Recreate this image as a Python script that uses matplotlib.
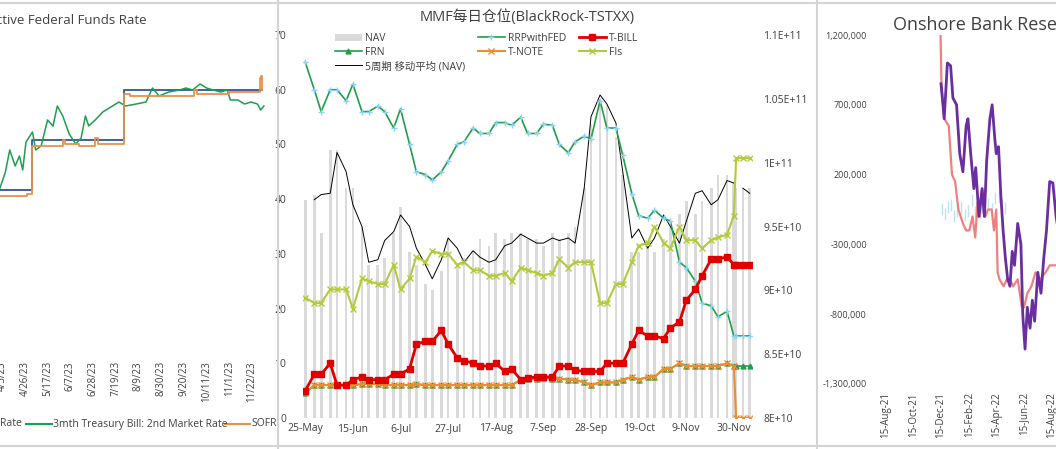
import matplotlib
matplotlib.use("Agg")
import matplotlib.pyplot as plt
import matplotlib.dates as mdates
from matplotlib.lines import Line2D
import pandas as pd

plt.rcParams['font.family'] = ['Open Sans', 'Noto Sans CJK SC', 'DejaVu Sans']

W, H = 1056, 449

# ---------------- panel 1 data: rates ----------------
effr_dates = ["2023-04-03", "2023-05-03", "2023-07-27", "2023-12-01"]
effr_vals = [4.83, 5.08, 5.33, 5.33]

sofr_dates = ["2023-04-03", "2023-04-28", "2023-05-03", "2023-05-31", "2023-06-02", "2023-06-15",
              "2023-06-30", "2023-07-03", "2023-07-27", "2023-08-01", "2023-09-29", "2023-10-02",
              "2023-11-01", "2023-11-28", "2023-11-29", "2023-11-30", "2023-12-01"]
sofr_vals = [4.80, 4.81, 5.05, 5.08, 5.06, 5.05, 5.09, 5.06, 5.31, 5.30, 5.33, 5.31,
             5.32, 5.32, 5.39, 5.40, 5.33]

tbill3m_dates = ["2023-04-03", "2023-04-08", "2023-04-12", "2023-04-17", "2023-04-21", "2023-04-24",
                 "2023-04-27", "2023-05-03", "2023-05-06", "2023-05-11", "2023-05-17", "2023-05-22",
                 "2023-05-26", "2023-05-31", "2023-06-06", "2023-06-12", "2023-06-17", "2023-06-21",
                 "2023-06-24", "2023-06-30", "2023-07-07", "2023-07-13", "2023-07-22", "2023-07-28",
                 "2023-08-07", "2023-08-16", "2023-08-22", "2023-08-28", "2023-09-06", "2023-09-16",
                 "2023-09-22", "2023-09-28", "2023-10-05", "2023-10-11", "2023-10-17", "2023-10-24",
                 "2023-10-30", "2023-11-02", "2023-11-09", "2023-11-15", "2023-11-21", "2023-11-27",
                 "2023-11-30", "2023-12-03"]
tbill3m_vals = [4.84, 4.92, 5.03, 4.95, 5.00, 4.93, 5.07, 5.12, 5.03, 5.05, 5.18, 5.15,
                5.25, 5.20, 5.11, 5.06, 5.09, 5.20, 5.15, 5.18, 5.22, 5.24, 5.27, 5.25,
                5.26, 5.27, 5.34, 5.30, 5.32, 5.33, 5.34, 5.33, 5.36, 5.34, 5.33, 5.32,
                5.33, 5.28, 5.28, 5.26, 5.27, 5.26, 5.23, 5.25]

# ---------------- panel 2 data: MMF positions ----------------
mmf_dates = ["2023-05-25", "2023-05-29", "2023-06-01", "2023-06-05", "2023-06-08", "2023-06-12",
             "2023-06-15", "2023-06-19", "2023-06-22", "2023-06-26", "2023-06-29", "2023-07-03",
             "2023-07-06", "2023-07-10", "2023-07-13", "2023-07-17", "2023-07-20", "2023-07-24",
             "2023-07-27", "2023-07-31", "2023-08-03", "2023-08-07", "2023-08-10", "2023-08-14",
             "2023-08-17", "2023-08-21", "2023-08-24", "2023-08-28", "2023-08-31", "2023-09-04",
             "2023-09-07", "2023-09-11", "2023-09-14", "2023-09-18", "2023-09-21", "2023-09-25",
             "2023-09-28", "2023-10-02", "2023-10-05", "2023-10-09", "2023-10-12", "2023-10-16",
             "2023-10-19", "2023-10-23", "2023-10-26", "2023-10-30", "2023-11-02", "2023-11-06",
             "2023-11-09", "2023-11-13", "2023-11-16", "2023-11-20", "2023-11-23", "2023-11-27",
             "2023-11-30", "2023-12-01", "2023-12-04", "2023-12-07"]
rrp = [65, 60, 56, 60, 60, 58, 61, 56, 56, 57, 56, 53,
       56.5, 50, 45, 44.5, 43.5, 45, 47, 50, 50.5, 53, 52, 52,
       54, 54, 53.5, 55, 52, 52, 53.7, 53.5, 50, 48.5, 50.5, 51.5,
       51, 58, 53, 53, 48, 41, 37, 36.5, 38, 36.5, 36, 28.5,
       27.5, 25, 21, 20.5, 18.5, 19.5, 15, 15, 15, 15]
tbill = [5, 8, 8, 10, 6, 6, 7, 7.5, 7, 7, 7, 8,
         8, 9, 13.5, 14, 14, 16, 13.5, 11, 10.5, 10, 9.5, 9.5,
         10, 8.5, 9, 7, 7.3, 7.5, 7.5, 7.5, 9.5, 9.5, 8.7, 8.5,
         8.5, 8.5, 10, 10, 10, 13.5, 16, 15, 15, 14.5, 16.5, 17.5,
         21.5, 23.5, 26, 29, 29, 29.5, 28, 28, 28, 28]
tnote = [4.5, 6, 6, 6, 6, 6, 6, 6.2, 6.3, 6.2, 6, 6,
         6, 6, 6.2, 6, 6, 6, 6, 6, 6, 6, 6, 6,
         6, 6, 6, 7, 7.2, 7.2, 7.3, 7.2, 7.2, 7, 7, 6.5,
         6, 6.5, 6.5, 6.5, 7, 7.5, 7, 7.5, 7.5, 9, 9, 10,
         9.5, 9.5, 9.5, 9.5, 9.5, 10, 9.5, 0, 0, 0]
frn = tnote[:55] + [9.5, 9.5, 9.5]
fis = [22, 21, 21, 23.5, 23.5, 23.5, 20, 25.5, 25, 24.5, 24.5, 28,
       23.5, 25.5, 29.5, 28.5, 30.5, 30, 30, 28, 28.5, 27, 27, 26,
       26, 26.5, 25, 27.5, 27, 26.5, 26, 26.5, 29, 27.5, 28.5, 28.5,
       28.5, 21, 21, 24.5, 24.5, 28.5, 31.5, 32, 35, 32, 31, 35,
       32.5, 32.5, 31, 32.5, 33, 33.5, 37, 47.5, 47.5, 47.5]
# NAV in units of 1E10 (right axis)
nav = [9.71, 9.75, 9.45, 10.1, 10.1, 9.8, 9.8, 9.5, 9.2, 9.2, 9.25, 9.45,
       9.65, 9.3, 9.2, 9.05, 9.0, 9.15, 9.4, 9.2, 9.25, 9.3, 9.4, 9.35,
       9.45, 9.4, 9.45, 9.45, 9.4, 9.4, 9.35, 9.45, 9.4, 9.45, 9.5, 9.8,
       10.3, 10.5, 10.45, 10.2, 9.9, 9.3, 9.3, 9.35, 9.3, 9.4, 9.5, 9.6,
       9.7, 9.6, 9.7, 9.8, 9.9, 9.9, 9.85, 9.8, 9.8, 9.8]
nav_ma = [None, 9.71, 9.75, 9.76, 10.08, 9.93, 9.67, 9.5, 9.22, 9.24, 9.39, 9.46,
          9.59, 9.5, 9.33, 9.2, 9.09, 9.24, 9.41, 9.33, 9.22, 9.31, 9.26, 9.22,
          9.24, 9.35, 9.37, 9.44, 9.41, 9.37, 9.37, 9.41, 9.39, 9.41, 9.37, 9.8,
          10.36, 10.53, 10.46, 10.31, 9.93, 9.41, 9.48, 9.33, 9.41, 9.59, 9.5, 9.37,
          9.54, 9.76, 9.78, 9.67, 9.71, 9.86, 9.84, None, 9.8, 9.76]

# ---------------- panel 3 data: bank reserves ----------------
purple_dates = ["2021-12-15", "2021-12-22", "2021-12-29", "2022-01-05", "2022-01-10", "2022-01-18",
                "2022-01-25", "2022-02-01", "2022-02-08", "2022-02-12", "2022-02-18", "2022-02-25",
                "2022-03-01", "2022-03-08", "2022-03-15", "2022-03-20", "2022-03-25", "2022-04-01",
                "2022-04-06", "2022-04-12", "2022-04-15", "2022-04-20", "2022-04-25", "2022-04-30",
                "2022-05-05", "2022-05-10", "2022-05-15", "2022-05-20", "2022-05-25", "2022-06-01",
                "2022-06-08", "2022-06-12", "2022-06-17", "2022-06-22", "2022-06-28", "2022-07-03",
                "2022-07-08", "2022-07-15", "2022-07-22", "2022-07-28", "2022-08-03", "2022-08-10",
                "2022-08-17", "2022-08-24", "2022-08-31"]
purple_vals = [850, 600, 1000, 980, 750, 700, 350, 220, 550, 600, 350, 100,
               250, -100, 100, -100, 300, 600, 700, 450, 350, 400, 50, -200,
               -400, -550, -600, -350, -450, -150, -300, -800, -1050, -750, -900, -700,
               -850, -500, -650, -400, -200, 150, 140, -100, -250]
salmon_dates = ["2021-12-14", "2021-12-16", "2021-12-22", "2022-01-01", "2022-01-08", "2022-01-15",
                "2022-01-22", "2022-02-01", "2022-02-08", "2022-02-15", "2022-02-22", "2022-02-28",
                "2022-03-05", "2022-03-10", "2022-03-15", "2022-03-22", "2022-03-28", "2022-04-05",
                "2022-04-10", "2022-04-15", "2022-04-18", "2022-04-22", "2022-05-01", "2022-05-08",
                "2022-05-15", "2022-05-22", "2022-06-01", "2022-06-10", "2022-06-15", "2022-06-22",
                "2022-07-01", "2022-07-10", "2022-07-20", "2022-08-01", "2022-08-10", "2022-08-20",
                "2022-08-31"]
salmon_vals = [1200, 850, 600, 550, 200, 150, -50, -150, -200, -200, -100, -250,
               0, -100, 100, -100, -50, -50, -200, -50, -500, -550, -600, -550,
               -550, -600, -550, -750, -750, -650, -600, -500, -550, -500, -450, -450,
               -450]
blue_dates = ["2021-12-18", "2021-12-24", "2021-12-30", "2022-01-05", "2022-01-12", "2022-01-20",
              "2022-01-27", "2022-02-05", "2022-02-12", "2022-02-20", "2022-02-27", "2022-03-08",
              "2022-03-15", "2022-03-22", "2022-03-29", "2022-04-05", "2022-04-12", "2022-04-20",
              "2022-04-27", "2022-05-05"]
blue_vals = [-50, -80, -30, -20, -100, -60, -40, -90, -60, 20, -70, 0,
             -30, -60, -10, -50, 30, 40, -20, -40]

d = pd.to_datetime


def px_axes(l, t, r, b):
    return fig.add_axes([l / W, 1 - b / H, (r - l) / W, (b - t) / H])


fig = plt.figure(figsize=(W / 100, H / 100), dpi=100)

# panel borders
for x in (278, 817):
    fig.add_artist(Line2D([x / W, x / W], [0, 1], color='#d4d4d4', lw=1.5))
for y in (3, 446):
    fig.add_artist(Line2D([0, 1], [1 - y / H, 1 - y / H], color='#d4d4d4', lw=1.5))

# ---------------- panel 1 ----------------
ax1 = px_axes(0, 30, 265, 350)
ax1.plot(d(effr_dates), effr_vals, drawstyle='steps-post', color='#2f5597', lw=1.3)
ax1.plot(d(tbill3m_dates), tbill3m_vals, color='#1e9e4e', lw=1.1)
ax1.plot(d(sofr_dates), sofr_vals, drawstyle='steps-post', color='#e8914a', lw=1.3)
ax1.set_xlim(d("2023-04-03"), d("2023-12-04"))
ax1.set_ylim(4.03, 5.63)
ax1.set_yticks([])
ax1.set_xticks(pd.date_range("2023-04-05", "2023-11-30", freq="21D"))
ax1.xaxis.set_major_formatter(mdates.DateFormatter('%-m/%-d/%y'))
ax1.tick_params(axis='x', labelrotation=90, labelsize=7, length=0, pad=8, colors='#404040')
for s in ax1.spines.values():
    s.set_visible(False)
fig.text(147 / W, 1 - 20 / H, "Effective Federal Funds Rate", ha='right', va='center',
         fontsize=9.5, color='#404040')
ly = 1 - 424 / H
fig.text(22 / W, ly, "Effective Federal Funds Rate", ha='right', va='center', fontsize=7.5, color='#404040')
fig.add_artist(Line2D([26 / W, 52 / W], [ly, ly], color='#1e9e4e', lw=1.5))
fig.text(53 / W, ly, "3mth Treasury Bill: 2nd Market Rate", ha='left', va='center', fontsize=7.5, color='#404040')
fig.add_artist(Line2D([225 / W, 250 / W], [ly, ly], color='#e8914a', lw=1.5))
fig.text(251 / W, ly, "SOFR", ha='left', va='center', fontsize=7.5, color='#404040')

# ---------------- panel 2 ----------------
ax2 = px_axes(303, 35, 752, 418)
ax2r = ax2.twinx()
ax2.set_zorder(ax2r.get_zorder() + 1)
ax2.patch.set_visible(False)
dates2 = d(mmf_dates)
bars = ax2r.bar(dates2, [v * 1e10 for v in nav], width=1.2, color='#dadada', label='NAV')
ma_line, = ax2r.plot(dates2, [v * 1e10 if v is not None else float('nan') for v in nav_ma],
                     color='black', lw=0.7, label='5周期 移动平均 (NAV)')
ax2r.set_ylim(8e10, 1.1e11)
ax2r.set_yticks([8e10, 8.5e10, 9e10, 9.5e10, 1e11, 1.05e11, 1.1e11])
ax2r.set_yticklabels(["8E+10", "8.5E+10", "9E+10", "9.5E+10", "1E+11", "1.05E+11", "1.1E+11"])

h_rrp, = ax2.plot(dates2, rrp, color='#1f9e4a', lw=1.2, marker='+', ms=5, mec='#8fd3f0', mew=1, label='RRPwithFED')
h_frn, = ax2.plot(dates2, frn, color='#1f9e4a', lw=1.2, marker='^', ms=3.5, label='FRN')
h_tn, = ax2.plot(dates2, tnote, color='#f08c30', lw=1.5, marker='x', ms=4, label='T-NOTE')
h_tb, = ax2.plot(dates2, tbill, color='#e00000', lw=2, marker='s', ms=4, label='T-BILL')
h_fi, = ax2.plot(dates2, fis, color='#b5c93a', lw=1.5, marker='x', ms=4, label='FIs')
ax2.set_ylim(0, 70)
ax2.set_yticks(range(0, 71, 10))
ax2.set_xlim(d("2023-05-24"), d("2023-12-08"))
ax2.set_xticks(pd.date_range("2023-05-25", "2023-12-01", freq="21D"))
ax2.xaxis.set_major_formatter(mdates.DateFormatter('%-d-%b'))
for a in (ax2, ax2r):
    for s in a.spines.values():
        s.set_visible(False)
    a.tick_params(length=0, labelsize=7.5, colors='#404040')
ax2.tick_params(axis='y', pad=12)
ax2r.tick_params(axis='y', pad=8)
ax2.set_title("MMF每日仓位(BlackRock-TSTXX)", fontsize=10.5, color='#404040', pad=10)
ax2.legend([bars, h_frn, ma_line, h_rrp, h_tn, h_tb, h_fi],
           ['NAV', 'FRN', '5周期 移动平均 (NAV)', 'RRPwithFED', 'T-NOTE', 'T-BILL', 'FIs'],
           ncol=3, loc='upper left', bbox_to_anchor=(0.05, 1.03), frameon=False, fontsize=7.5,
           handlelength=2.6, handletextpad=0.3, columnspacing=1.2, labelspacing=0.3,
           labelcolor='#404040')

# ---------------- panel 3 ----------------
ax3 = px_axes(878, 35, 1120, 384)
ax3.plot(d(blue_dates), blue_vals, linestyle='none', marker='|', ms=9, color='#aadcf2', alpha=0.8)
ax3.plot(d(salmon_dates), salmon_vals, color='#ee8080', lw=1.6)
ax3.plot(d(purple_dates), purple_vals, color='#6a2ea0', lw=2)
ax3.set_ylim(-1300, 1200)
ax3.set_yticks([1200, 700, 200, -300, -800, -1300])
ax3.set_yticklabels(["1,200,000", "700,000", "200,000", "-300,000", "-800,000", "-1,300,000"])
ax3.set_xlim(d("2021-07-30"), d("2023-01-11"))
ax3.set_xticks(pd.to_datetime(["2021-08-15", "2021-10-15", "2021-12-15", "2022-02-15",
                               "2022-04-15", "2022-06-15", "2022-08-15", "2022-10-15"]))
ax3.xaxis.set_major_formatter(mdates.DateFormatter('%-d-%b-%y'))
ax3.tick_params(axis='x', labelrotation=90, labelsize=7, length=0, pad=6, colors='#404040')
ax3.tick_params(axis='y', labelsize=6.5, length=0, pad=8, colors='#404040')
for s in ax3.spines.values():
    s.set_visible(False)
fig.text(893 / W, 1 - 25 / H, "Onshore Bank Reserves", ha='left', va='center', fontsize=13, color='#404040')

fig.savefig("out.png", dpi=100)
